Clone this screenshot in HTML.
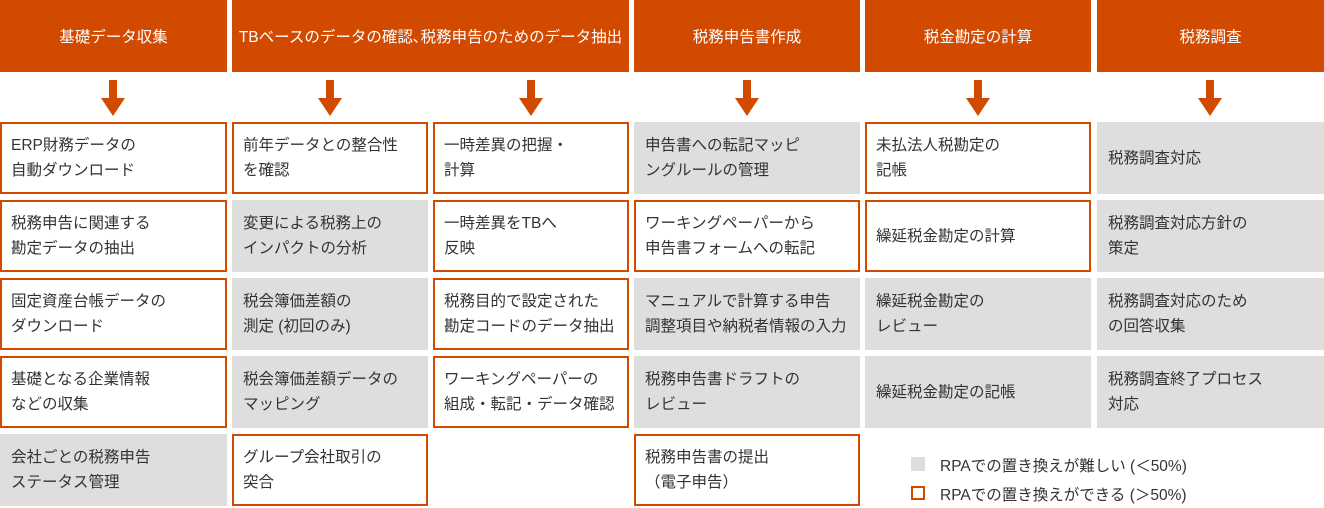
<!DOCTYPE html>
<html><head><meta charset="utf-8"><style>
body{margin:0;width:1324px;height:508px;background:#fff;position:relative;overflow:hidden;font-family:"Liberation Sans","Noto Sans CJK JP",sans-serif;}
.h{position:absolute;top:0;height:72px;background:#D24A00;color:#fff;font-size:15.5px;display:flex;align-items:center;justify-content:center;white-space:nowrap}
.c{position:absolute;height:72px;box-sizing:border-box;padding-left:11px;display:flex;align-items:center;font-size:15.5px;line-height:25px;color:#333;white-space:nowrap}
.o{border:2px solid #D24A00;background:#fff;padding-left:9px}
.g{background:#DEDEDE}
.a{position:absolute;top:80px;width:24px;height:36px}
.l{position:absolute;font-size:15.5px;color:#333;white-space:nowrap}
</style></head><body>
<div class="h" style="left:0;width:227px">基礎データ収集</div>
<div class="h" style="left:232px;width:397px">TBベースのデータの確認､税務申告のためのデータ抽出</div>
<div class="h" style="left:634px;width:226px">税務申告書作成</div>
<div class="h" style="left:865px;width:226px">税金勘定の計算</div>
<div class="h" style="left:1097px;width:227px">税務調査</div>

<svg class="a" style="left:101px" viewBox="0 0 24 36"><rect x="8" y="0" width="8" height="18" fill="#D24A00"/><polygon points="0,18 24,18 12,36" fill="#D24A00"/></svg>
<svg class="a" style="left:318px" viewBox="0 0 24 36"><rect x="8" y="0" width="8" height="18" fill="#D24A00"/><polygon points="0,18 24,18 12,36" fill="#D24A00"/></svg>
<svg class="a" style="left:519px" viewBox="0 0 24 36"><rect x="8" y="0" width="8" height="18" fill="#D24A00"/><polygon points="0,18 24,18 12,36" fill="#D24A00"/></svg>
<svg class="a" style="left:735px" viewBox="0 0 24 36"><rect x="8" y="0" width="8" height="18" fill="#D24A00"/><polygon points="0,18 24,18 12,36" fill="#D24A00"/></svg>
<svg class="a" style="left:966px" viewBox="0 0 24 36"><rect x="8" y="0" width="8" height="18" fill="#D24A00"/><polygon points="0,18 24,18 12,36" fill="#D24A00"/></svg>
<svg class="a" style="left:1198px" viewBox="0 0 24 36"><rect x="8" y="0" width="8" height="18" fill="#D24A00"/><polygon points="0,18 24,18 12,36" fill="#D24A00"/></svg>

<div class="c o" style="left:0;top:122px;width:227px">ERP財務データの<br>自動ダウンロード</div>
<div class="c o" style="left:0;top:200px;width:227px">税務申告に関連する<br>勘定データの抽出</div>
<div class="c o" style="left:0;top:278px;width:227px">固定資産台帳データの<br>ダウンロード</div>
<div class="c o" style="left:0;top:356px;width:227px">基礎となる企業情報<br>などの収集</div>
<div class="c g" style="left:0;top:434px;width:227px">会社ごとの税務申告<br>ステータス管理</div>
<div class="c o" style="left:232px;top:122px;width:196px">前年データとの整合性<br>を確認</div>
<div class="c g" style="left:232px;top:200px;width:196px">変更による税務上の<br>インパクトの分析</div>
<div class="c g" style="left:232px;top:278px;width:196px">税会簿価差額の<br>測定 (初回のみ)</div>
<div class="c g" style="left:232px;top:356px;width:196px">税会簿価差額データの<br>マッピング</div>
<div class="c o" style="left:232px;top:434px;width:196px">グループ会社取引の<br>突合</div>
<div class="c o" style="left:433px;top:122px;width:196px">一時差異の把握・<br>計算</div>
<div class="c o" style="left:433px;top:200px;width:196px">一時差異をTBへ<br>反映</div>
<div class="c o" style="left:433px;top:278px;width:196px">税務目的で設定された<br>勘定コードのデータ抽出</div>
<div class="c o" style="left:433px;top:356px;width:196px">ワーキングペーパーの<br>組成・転記・データ確認</div>
<div class="c g" style="left:634px;top:122px;width:226px">申告書への転記マッピ<br>ングルールの管理</div>
<div class="c o" style="left:634px;top:200px;width:226px">ワーキングペーパーから<br>申告書フォームへの転記</div>
<div class="c g" style="left:634px;top:278px;width:226px">マニュアルで計算する申告<br>調整項目や納税者情報の入力</div>
<div class="c g" style="left:634px;top:356px;width:226px">税務申告書ドラフトの<br>レビュー</div>
<div class="c o" style="left:634px;top:434px;width:226px">税務申告書の提出<br>（電子申告）</div>
<div class="c o" style="left:865px;top:122px;width:226px">未払法人税勘定の<br>記帳</div>
<div class="c o" style="left:865px;top:200px;width:226px">繰延税金勘定の計算</div>
<div class="c g" style="left:865px;top:278px;width:226px">繰延税金勘定の<br>レビュー</div>
<div class="c g" style="left:865px;top:356px;width:226px">繰延税金勘定の記帳</div>
<div class="c g" style="left:1097px;top:122px;width:227px">税務調査対応</div>
<div class="c g" style="left:1097px;top:200px;width:227px">税務調査対応方針の<br>策定</div>
<div class="c g" style="left:1097px;top:278px;width:227px">税務調査対応のため<br>の回答収集</div>
<div class="c g" style="left:1097px;top:356px;width:227px">税務調査終了プロセス<br>対応</div>

<div style="position:absolute;left:911px;top:457px;width:14px;height:14px;background:#DEDEDE"></div>
<div class="l" style="left:940px;top:454px">RPAでの置き換えが難しい (＜50%)</div>
<div style="position:absolute;left:911px;top:486px;width:14px;height:14px;box-sizing:border-box;border:2px solid #D24A00"></div>
<div class="l" style="left:940px;top:483px">RPAでの置き換えができる (＞50%)</div>
</body></html>
